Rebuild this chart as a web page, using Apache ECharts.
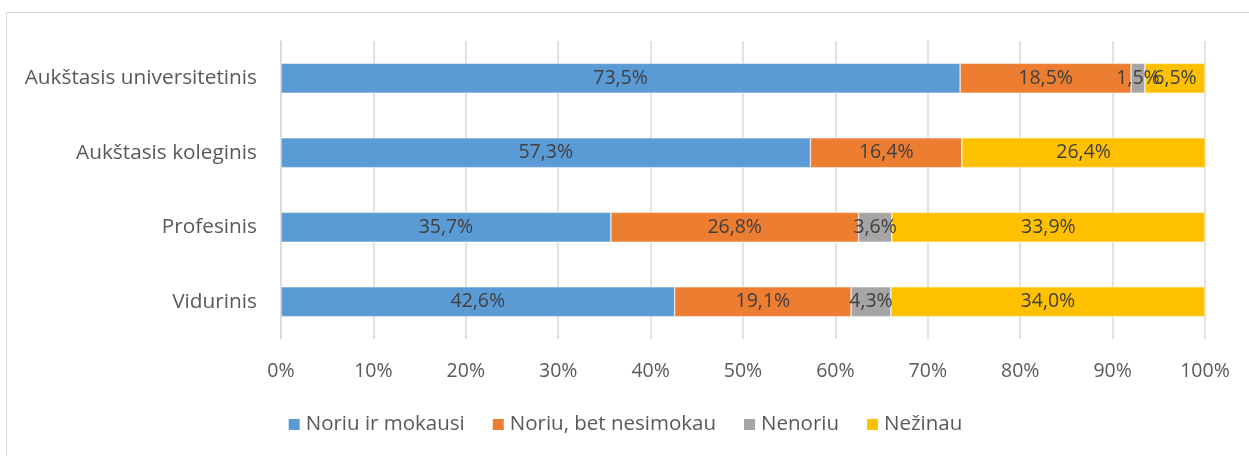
<!DOCTYPE html>
<html>
<head>
<meta charset="utf-8">
<script src="https://cdn.jsdelivr.net/npm/echarts@6/dist/echarts.min.js"></script>
<style>
  html, body { margin: 0; padding: 0; background: #fff; }
  #chart { width: 1249px; height: 456px; }
  #frame { position: absolute; left: 6px; top: 12px; width: 1250px; height: 450px; border: 1px solid #d9d9d9; box-sizing: border-box; pointer-events: none; }
</style>
</head>
<body>
<div id="chart"></div>
<div id="frame"></div>
<script>
  // kategorijos iš viršaus į apačią
  const categories = ['Aukštasis universitetinis', 'Aukštasis koleginis', 'Profesinis', 'Vidurinis']
  const seriesNames = ['Noriu ir mokausi', 'Noriu, bet nesimokau', 'Nenoriu', 'Nežinau']
  const noriuIrMokausi = [73.5, 57.3, 35.7, 42.6]
  const noriuBetNesimokau = [18.5, 16.4, 26.8, 19.1]
  const nenoriu = [1.5, 0, 3.6, 4.3]
  const nezinau = [6.5, 26.4, 33.9, 34.0]
  const colors = ['#5B9BD5', '#ED7D31', '#A5A5A5', '#FFC000']
  const xTicks = [0, 10, 20, 30, 40, 50, 60, 70, 80, 90, 100]

  const font = '"Open Sans", "Noto Sans", sans-serif'
  const allValues = [noriuIrMokausi, noriuBetNesimokau, nenoriu, nezinau]

  let chart = echarts.init(document.getElementById('chart'))
  let series = allValues.map((vals, i) => {
    return {
      name: seriesNames[i],
      type: 'bar',
      stack: 'total',
      barCategoryGap: '60%',
      data: vals,
      itemStyle: { color: colors[i], borderColor: '#ffffff', borderWidth: 0.5 },
      label: {
        show: true,
        position: 'inside',
        color: '#404040',
        fontFamily: font,
        fontSize: 19.5,
        formatter: p => p.value ? p.value.toFixed(1).replace('.', ',') + '%' : ''
      }
    }
  })

  let option = {
    animation: false,
    color: colors,
    grid: { left: 281, right: 44, top: 41, bottom: 117 },
    xAxis: {
      type: 'value',
      min: xTicks[0],
      max: xTicks[xTicks.length - 1],
      interval: 10,
      axisLine: { show: false },
      axisTick: { show: false },
      splitLine: { lineStyle: { color: '#d9d9d9', width: 1.5 } },
      axisLabel: {
        color: '#595959',
        fontFamily: font,
        fontSize: 19.5,
        margin: 22,
        formatter: v => v + '%'
      }
    },
    yAxis: {
      type: 'category',
      inverse: true,
      data: categories,
      axisLine: { show: true, lineStyle: { color: '#d9d9d9', width: 1.5 } },
      axisTick: { show: false },
      axisLabel: { color: '#595959', fontFamily: font, fontSize: 20.8, margin: 24 }
    },
    legend: {
      top: 409,
      left: 'center',
      itemWidth: 13,
      itemHeight: 13,
      itemGap: 26,
      icon: 'rect',
      textStyle: { color: '#595959', fontFamily: font, fontSize: 20.5 },
      data: seriesNames
    },
    series: series
  }
  chart.setOption(option)
</script>
</body>
</html>
